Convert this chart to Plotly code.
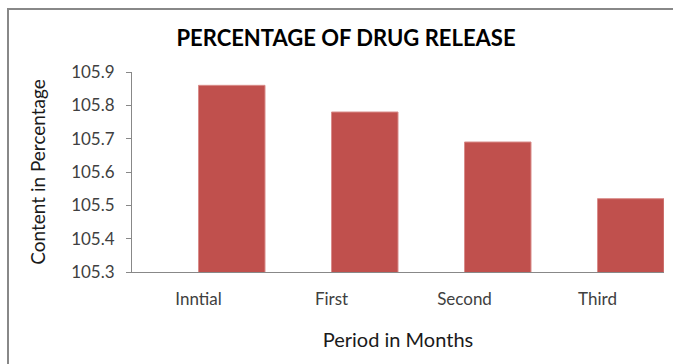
import plotly.graph_objects as go

# Drug content measured over the storage period
periods = ["Inntial", "First", "Second", "Third"]
content = [105.86, 105.78, 105.69, 105.52]
y_ticks = [105.3, 105.4, 105.5, 105.6, 105.7, 105.8, 105.9]
y_tick_text = ["105.3", "105.4", "105.5", "105.6", "105.7", "105.8", "105.9"]

BAR_COLOR = "#C0504D"
AXIS_COLOR = "#888888"
TEXT_COLOR = "#404040"
FONT = "Lato"

fig = go.Figure(
    go.Bar(
        x=periods,
        y=content,
        offset=0,
        width=0.5,
        marker=dict(color=BAR_COLOR, line=dict(color="#D98C8A", width=1)),
    )
)

W, H = 673, 364
L, R, T, B = 132, 9, 72, 92
pw = W - L - R
ph = H - T - B

def px_x(x):
    return (x - L) / pw

def px_y(y):
    return (H - B - y) / ph

fig.update_layout(
    width=W,
    height=H,
    margin=dict(l=L, r=R, t=T, b=B),
    paper_bgcolor="white",
    plot_bgcolor="white",
    showlegend=False,
    font=dict(family=FONT, color=TEXT_COLOR),
    title=dict(
        text="<b>PERCENTAGE OF DRUG RELEASE</b>",
        x=px_x(346),
        xref="paper",
        xanchor="center",
        y=1 - 38 / H,
        yref="container",
        yanchor="middle",
        font=dict(family=FONT, size=22, color="#000000"),
    ),
    xaxis=dict(
        range=[-0.5, 3.5],
        showline=True,
        linecolor=AXIS_COLOR,
        linewidth=1,
        ticks="",
        showgrid=False,
        tickfont=dict(family=FONT, size=17, color=TEXT_COLOR),
        ticklabelstandoff=12,
        title=dict(text="Period in Months", font=dict(family=FONT, size=20, color="#1a1a1a"), standoff=24),
        fixedrange=True,
    ),
    yaxis=dict(
        range=[105.3, 105.9],
        tickvals=y_ticks,
        ticktext=y_tick_text,
        showline=True,
        linecolor=AXIS_COLOR,
        linewidth=1,
        ticks="outside",
        ticklen=5,
        tickcolor=AXIS_COLOR,
        showgrid=False,
        zeroline=False,
        tickfont=dict(family=FONT, size=17, color=TEXT_COLOR),
        ticklabelstandoff=8,
        title=dict(text="Content in Percentage", font=dict(family=FONT, size=19, color="#1a1a1a"), standoff=20),
        fixedrange=True,
    ),
    shapes=[
        dict(
            type="rect",
            xref="paper",
            yref="paper",
            x0=px_x(8),
            x1=px_x(W + 20),
            y0=px_y(H + 20),
            y1=px_y(9),
            line=dict(color=AXIS_COLOR, width=2),
            fillcolor="rgba(0,0,0,0)",
            layer="below",
        )
    ],
)

fig.write_html("out.html")
